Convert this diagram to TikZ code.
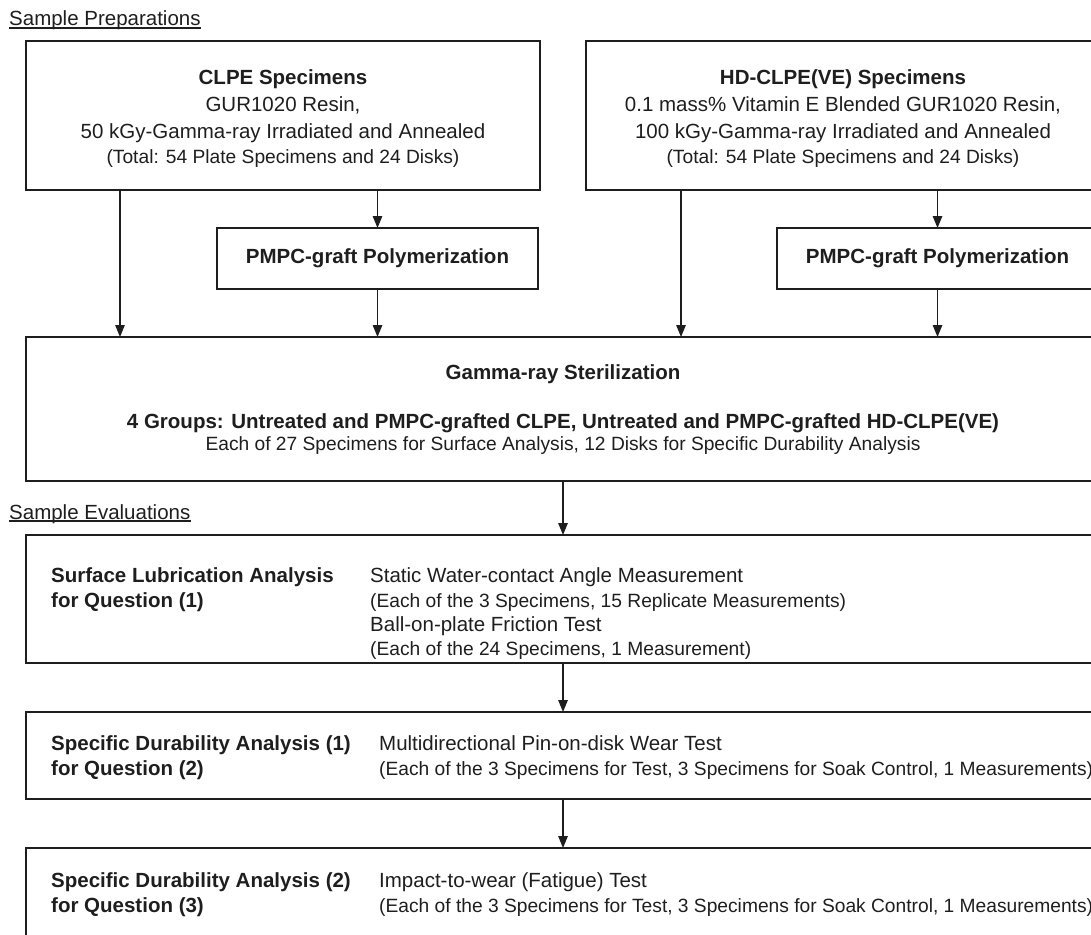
\documentclass[tikz,border=0pt]{standalone}
\usepackage{fontspec}
\setmainfont{Liberation Sans}
\usetikzlibrary{arrows.meta}
\definecolor{ink}{RGB}{30,30,30}
\newcommand{\mainSize}[0]{\fontsize{20.5}{25}\selectfont}
\newcommand{\subSize}[0]{\fontsize{19.2}{24}\selectfont}

\begin{document}
\begin{tikzpicture}[x=1pt, y=-1pt]
  \tikzset{
    panel/.style={draw=ink, line width=1.7pt, inner sep=0pt, outer sep=0pt, anchor=north west},
    txt/.style={text=ink, inner sep=0pt, font=\mainSize},
    subtxt/.style={text=ink, inner sep=0pt, font=\subSize},
    flow/.style={draw=ink, line width=1.4pt, -{Triangle[length=12pt, width=9.5pt]}},
    rule/.style={draw=ink, line width=1.2pt}
  }
  \useasboundingbox (0,0) rectangle (1091,934);
  \clip (0,0) rectangle (1091,934);

  % sample preparations
  \node[txt, anchor=base west] (prepHead) at (9,26) {Sample Preparations};
  \draw[rule] ([yshift=-2pt]prepHead.base west) -- ([yshift=-2pt]prepHead.base east);

  \node[panel, minimum width=514, minimum height=149] (clpe) at (26,41) {};
  \node[txt, anchor=base] (clpe-1) at (283,84) {\textbf{CLPE Specimens}};
  \node[txt, anchor=base] (clpe-2) at (283,111) {GUR1020 Resin,};
  \node[txt, anchor=base] (clpe-3) at (283,138) {50 kGy-Gamma-ray Irradiated and Annealed};
  \node[subtxt, anchor=base] (clpe-4) at (283,163) {(Total: 54 Plate Specimens and 24 Disks)};

  \node[panel, minimum width=514, minimum height=149] (hd) at (586,41) {};
  \node[txt, anchor=base] (hd-1) at (843,84) {\textbf{HD-CLPE(VE) Specimens}};
  \node[txt, anchor=base] (hd-2) at (843,111) {0.1 mass\% Vitamin E Blended GUR1020 Resin,};
  \node[txt, anchor=base] (hd-3) at (843,138) {100 kGy-Gamma-ray Irradiated and Annealed};
  \node[subtxt, anchor=base] (hd-4) at (843,163) {(Total: 54 Plate Specimens and 24 Disks)};

  \node[panel, minimum width=321, minimum height=61, text=ink, font=\mainSize\bfseries] (pmpcL) at (217,228) {PMPC-graft Polymerization};
  \node[panel, minimum width=321, minimum height=61, text=ink, font=\mainSize\bfseries] (pmpcR) at (777,228) {PMPC-graft Polymerization};

  \node[panel, minimum width=1074, minimum height=144] (gamma) at (26,337) {};
  \node[txt, anchor=base] (gamma-1) at (563,379) {\textbf{Gamma-ray Sterilization}};
  \node[txt, anchor=base] (gamma-2) at (563,428) {\textbf{4 Groups: Untreated and PMPC-grafted CLPE, Untreated and PMPC-grafted HD-CLPE(VE)}};
  \node[subtxt, anchor=base] (gamma-3) at (563,450) {Each of 27 Specimens for Surface Analysis, 12 Disks for Specific Durability Analysis};

  \coordinate (laneA) at (120,0);
  \coordinate (laneC) at (681,0);
  \draw[flow] (clpe.south -| laneA) -- (gamma.north -| laneA);
  \draw[flow] (clpe.south -| pmpcL.north) -- (pmpcL.north);
  \draw[flow] (pmpcL.south) -- (gamma.north -| pmpcL.south);
  \draw[flow] (hd.south -| laneC) -- (gamma.north -| laneC);
  \draw[flow] (hd.south -| pmpcR.north) -- (pmpcR.north);
  \draw[flow] (pmpcR.south) -- (gamma.north -| pmpcR.south);

  % sample evaluations
  \node[txt, anchor=base west] (evalHead) at (9,519) {Sample Evaluations};
  \draw[rule] ([yshift=-2pt]evalHead.base west) -- ([yshift=-2pt]evalHead.base east);

  \node[panel, minimum width=1074, minimum height=128] (surf) at (26,535) {};
  \node[txt, anchor=base west] (surf-a) at (51,582) {\textbf{Surface Lubrication Analysis}};
  \node[txt, anchor=base west] (surf-b) at (51,607) {\textbf{for Question (1)}};
  \node[txt, anchor=base west] (surf-1) at (370,582) {Static Water-contact Angle Measurement};
  \node[subtxt, anchor=base west] (surf-2) at (370,607) {(Each of the 3 Specimens, 15 Replicate Measurements)};
  \node[txt, anchor=base west] (surf-3) at (370,631) {Ball-on-plate Friction Test};
  \node[subtxt, anchor=base west] (surf-4) at (370,655) {(Each of the 24 Specimens, 1 Measurement)};

  \node[panel, minimum width=1074, minimum height=87] (dur1) at (26,712) {};
  \node[txt, anchor=base west] (dur1-a) at (51,750) {\textbf{Specific Durability Analysis (1)}};
  \node[txt, anchor=base west] (dur1-b) at (51,775) {\textbf{for Question (2)}};
  \node[txt, anchor=base west] (dur1-1) at (379,750) {Multidirectional Pin-on-disk Wear Test};
  \node[subtxt, anchor=base west] (dur1-2) at (379,775) {(Each of the 3 Specimens for Test, 3 Specimens for Soak Control, 1 Measurements)};

  \node[panel, minimum width=1074, minimum height=120] (dur2) at (26,848) {};
  \node[txt, anchor=base west] (dur2-a) at (51,887) {\textbf{Specific Durability Analysis (2)}};
  \node[txt, anchor=base west] (dur2-b) at (51,912) {\textbf{for Question (3)}};
  \node[txt, anchor=base west] (dur2-1) at (379,887) {Impact-to-wear (Fatigue) Test};
  \node[subtxt, anchor=base west] (dur2-2) at (379,912) {(Each of the 3 Specimens for Test, 3 Specimens for Soak Control, 1 Measurements)};

  \draw[flow] (gamma.south) -- (surf.north);
  \draw[flow] (surf.south) -- (dur1.north);
  \draw[flow] (dur1.south) -- (dur2.north);
\end{tikzpicture}
\end{document}
